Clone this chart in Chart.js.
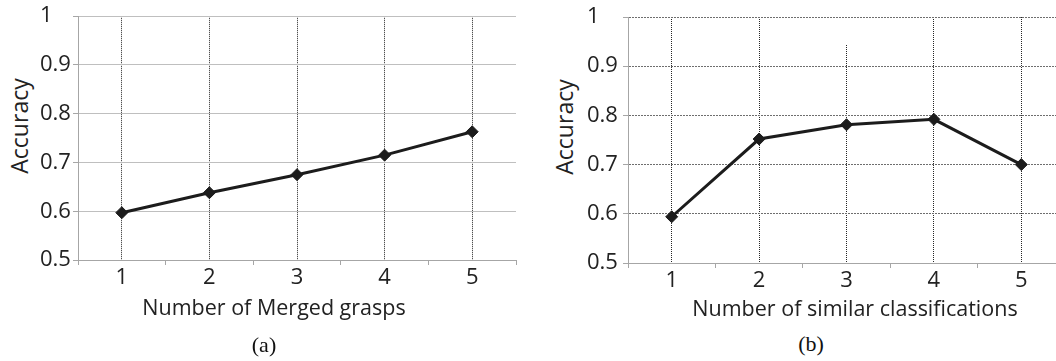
<!DOCTYPE html>
<html lang="en">
<head>
    <meta charset="UTF-8">
    <title>Accuracy</title>
    <script src="https://cdn.jsdelivr.net/npm/chart.js"></script>
    <style>
        html, body {
            margin: 0;
            padding: 0;
            background: #ffffff;
            width: 1056px;
            height: 361px;
            overflow: hidden;
            position: relative;
        }
        canvas {
            position: absolute;
            top: 0;
        }
        #chartA { left: 40px; }
        #chartB { left: 587px; }
        .txt {
            position: absolute;
            font-family: 'Open Sans', sans-serif;
            color: #222;
            white-space: nowrap;
            line-height: 1;
            transform: translate(-50%, -50%);
        }
        .ytitle {
            font-size: 23px;
            transform: translate(-50%, -50%) rotate(-90deg);
        }
        .xtitle { font-size: 21.5px; }
        .caption {
            font-family: 'Liberation Serif', serif;
            font-size: 22px;
            color: #111;
        }
    </style>
</head>
<body>
    <canvas id="chartA" width="500" height="300"></canvas>
    <canvas id="chartB" width="500" height="300"></canvas>

    <div class="txt ytitle" style="left:19px; top:126px;">Accuracy</div>
    <div class="txt xtitle" style="left:274px; top:307px;">Number of Merged grasps</div>
    <div class="txt caption" style="left:264px; top:345px;">(a)</div>

    <div class="txt ytitle" style="left:564px; top:127px;">Accuracy</div>
    <div class="txt xtitle" style="left:855px; top:308px;">Number of similar classifications</div>
    <div class="txt caption" style="left:811px; top:344px;">(b)</div>

    <script>
        // x categories shared by both panels
        const categories = ['1', '2', '3', '4', '5'];
        // (a) accuracy vs number of merged grasps
        const mergedAccuracy = [0.597, 0.638, 0.675, 0.715, 0.763];
        // (b) accuracy vs number of similar classifications
        const similarAccuracy = [0.594, 0.752, 0.781, 0.792, 0.700];
        // y axis range
        const yMin = 0.5, yMax = 1, yStep = 0.1;

        const tickFont = { family: "'Open Sans', sans-serif", size: 22 };

        // The vertical grid line at one category in panel (b) only starts part way down.
        const gridGap = { index: 2, until: 0.945 };

        const gridGapPlugin = {
            id: 'gridGap',
            beforeDatasetsDraw(chart, args, opts) {
                if (!opts || opts.index === undefined) return;
                const { ctx, chartArea, scales } = chart;
                const x = Math.round(scales.xg.getPixelForValue(opts.index));
                const yEnd = scales.y.getPixelForValue(opts.until);
                ctx.save();
                ctx.fillStyle = '#ffffff';
                ctx.fillRect(x - 1, chartArea.top + 1, 2, yEnd - chartArea.top - 1);
                ctx.restore();
            }
        };

        function makeChart(id, values, layout) {
            const ctx = document.getElementById(id).getContext('2d');
            return new Chart(ctx, {
                type: 'line',
                data: {
                    labels: categories,
                    datasets: [{
                        data: values,
                        borderColor: '#1c1c1c',
                        backgroundColor: '#1c1c1c',
                        borderWidth: 3,
                        tension: 0,
                        pointStyle: 'rectRot',
                        pointRadius: 6,
                        pointBorderWidth: 1,
                        pointBorderColor: '#1c1c1c',
                        pointBackgroundColor: '#1c1c1c'
                    }]
                },
                plugins: [gridGapPlugin],
                options: {
                    responsive: false,
                    animation: false,
                    layout: { padding: { left: 0, right: layout.right, top: layout.top, bottom: 0 } },
                    plugins: {
                        legend: { display: false },
                        tooltip: { enabled: false },
                        gridGap: layout.gap || false
                    },
                    scales: {
                        // main category axis: labels and short ticks between categories
                        x: {
                            type: 'category',
                            position: 'bottom',
                            offset: true,
                            grid: {
                                offset: true,
                                drawOnChartArea: false,
                                drawTicks: true,
                                tickLength: 5,
                                color: '#a6a6a6'
                            },
                            border: { display: true, color: '#a6a6a6', width: 1 },
                            ticks: { font: tickFont, color: '#222', padding: 0, maxRotation: 0 },
                            afterFit: s => { s.height = layout.xHeight; }
                        },
                        // dotted vertical lines through each category
                        xg: {
                            type: 'category',
                            position: 'bottom',
                            offset: true,
                            grid: {
                                offset: false,
                                drawOnChartArea: true,
                                drawTicks: false,
                                color: '#262626',
                                lineWidth: 1
                            },
                            border: { display: false, dash: [1, 1] },
                            ticks: { display: false },
                            afterFit: s => { s.height = 0; }
                        },
                        y: {
                            min: yMin,
                            max: yMax,
                            ticks: {
                                stepSize: yStep,
                                font: tickFont,
                                color: '#222',
                                crossAlign: 'far',
                                callback: v => String(Math.round(v * 10) / 10)
                            },
                            grid: {
                                color: layout.yGridColor,
                                tickLength: 5,
                                tickColor: '#a6a6a6',
                                tickBorderDash: []
                            },
                            border: { display: true, color: '#a6a6a6', width: 1, dash: layout.yDash },
                            afterFit: s => { s.width = layout.yWidth; }
                        }
                    }
                }
            });
        }

        makeChart('chartA', mergedAccuracy, {
            right: 24, top: 14, xHeight: 40, yWidth: 38,
            yGridColor: '#bfbfbf', yDash: []
        });
        makeChart('chartB', similarAccuracy, {
            right: 22, top: 17, xHeight: 37, yWidth: 41,
            yGridColor: '#6e6e6e', yDash: [2, 1], gap: gridGap
        });
    </script>
</body>
</html>
